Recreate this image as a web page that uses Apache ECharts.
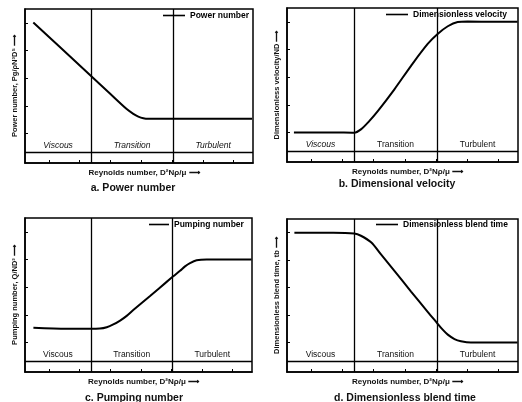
<!DOCTYPE html>
<html>
<head>
<meta charset="utf-8">
<script src="https://cdn.jsdelivr.net/npm/echarts@6/dist/echarts.min.js"></script>
<style>
html,body{margin:0;padding:0;background:#fff;}
#chart{width:522px;height:402px;}
</style>
</head>
<body>
<div id="chart"></div>
<script>
// ---- data (x: position along Reynolds-number axis, 0-100; y: tick units) ----
const xTicks = [10.5, 24, 37.5, 51, 64.5, 78, 91.5];
const yTicks = [1, 2, 3, 4, 5];
const regimeBounds = [29, 65];
const regimeBaseY = 0.33;
const regimes = ['Viscous', 'Transition', 'Turbulent'];

const powerX = [3.65, 16, 28.5, 37, 44.6, 47.5, 49.7, 51.9, 54.1, 60, 80, 99.6];
const powerY = [5.01, 4.07, 3.11, 2.46, 1.88, 1.71, 1.61, 1.55, 1.53, 1.53, 1.53, 1.53];

const velocityX = [3.0, 20, 29.1, 32.0, 35.6, 39.3, 46.5, 53.7, 60.9, 65.2, 69.6, 73.9, 78.2, 90, 99.8];
const velocityY = [1.0, 1.0, 0.99, 1.11, 1.41, 1.77, 2.56, 3.41, 4.2, 4.56, 4.84, 4.99, 5.01, 5.0, 5.0];

const pumpingX = [3.7, 18.4, 28.6, 33.0, 36.0, 38.9, 41.9, 44.8, 47.7, 55.1, 62.4, 65.3, 68.3, 70.5, 72.7, 75.6, 80.0, 90, 99.8];
const pumpingY = [1.53, 1.49, 1.49, 1.50, 1.55, 1.65, 1.79, 1.96, 2.17, 2.68, 3.19, 3.39, 3.59, 3.75, 3.87, 3.97, 4.0, 4.0, 4.0];

const blendX = [3.2, 20, 29.1, 32.0, 36.4, 40.7, 46.5, 53.7, 60.9, 64.8, 67.4, 69.6, 72.5, 75.3, 79.6, 90, 99.8];
const blendY = [5.0, 5.0, 4.97, 4.89, 4.65, 4.21, 3.61, 2.86, 2.12, 1.73, 1.47, 1.29, 1.13, 1.05, 1.0, 1.0, 1.0];

const seriesNames = ['Power number', 'Dimensionless velocity', 'Pumping number', 'Dimensionless blend time'];
const yNames = ['Power number, Pg/ρN³D⁵ ⟶', 'Dimensionless velocity/ND ⟶', 'Pumping number, Q/ND³ ⟶', 'Dimensionless blend time, tb ⟶'];
const xName = 'Reynolds number, D²Nρ/μ ⟶';
const panelTitles = ['a. Power number', 'b. Dimensional velocity', 'c. Pumping number', 'd. Dimensionless blend time'];
const italicRegimes = [[true, true, true], [true, false, false], [false, false, false], [false, false, false]];

// ---- layout ----
const grids = [
  {left: 25, top: 9, width: 228, height: 154},
  {left: 287, top: 8, width: 231, height: 154},
  {left: 25, top: 218, width: 227, height: 154},
  {left: 287, top: 219, width: 231, height: 153}
];
const legendPos = [
  {left: 163, top: 11, itemWidth: 22},
  {left: 386, top: 10, itemWidth: 22},
  {left: 149, top: 220, itemWidth: 20},
  {left: 376, top: 220, itemWidth: 22}
];
const titlePos = [
  {x: 133, y: 183}, {x: 397, y: 179}, {x: 134, y: 393}, {x: 405, y: 393}
];

const FONT = '"Liberation Sans", Arial, sans-serif';
const xs = [powerX, velocityX, pumpingX, blendX];
const ys = [powerY, velocityY, pumpingY, blendY];

const bounds = [0].concat(regimeBounds, [100]);

const option = {
  animation: false,
  backgroundColor: '#fff',
  textStyle: {fontFamily: FONT, color: '#000'},
  grid: grids.map(g => Object.assign({show: true, borderColor: '#000', borderWidth: 1.5, backgroundColor: 'transparent', containLabel: false}, g)),
  xAxis: grids.map((g, i) => ({
    gridIndex: i, type: 'value', min: 0, max: 100,
    name: xName, nameLocation: 'middle', nameGap: 6,
    nameTextStyle: {fontSize: 8, fontWeight: 'bold', color: '#111', fontFamily: FONT, padding: [0, 0, 0, 10]},
    axisLine: {show: true, onZero: false, lineStyle: {color: '#000', width: 1.5}},
    axisTick: {show: true, inside: true, length: 3, customValues: xTicks, lineStyle: {color: '#000', width: 1}},
    axisLabel: {show: false}, splitLine: {show: false}
  })),
  yAxis: grids.map((g, i) => ({
    gridIndex: i, type: 'value', min: -0.07, max: 5.5,
    name: yNames[i], nameLocation: 'middle', nameRotate: 90, nameGap: 6,
    nameTextStyle: {fontSize: 7.5, fontWeight: 'bold', color: '#111', fontFamily: FONT},
    axisLine: {show: true, onZero: false, lineStyle: {color: '#000', width: 1.5}},
    axisTick: {show: true, inside: true, length: 3, customValues: yTicks, lineStyle: {color: '#000', width: 1}},
    axisLabel: {show: false}, splitLine: {show: false}
  })),
  legend: legendPos.map((p, i) => ({
    data: [seriesNames[i]], left: p.left, top: p.top, padding: 0,
    icon: 'rect', itemWidth: p.itemWidth, itemHeight: 1.6,
    textStyle: {fontSize: 8.5, fontWeight: 'bold', color: '#000', fontFamily: FONT},
    selectedMode: false
  })),
  title: titlePos.map((p, i) => ({
    text: panelTitles[i], left: p.x, top: p.y, textAlign: 'center', padding: 0,
    textStyle: {fontSize: 10.5, fontWeight: 'bold', color: '#111', fontFamily: FONT}
  })),
  series: xs.map((xArr, i) => ({
    name: seriesNames[i], type: 'line', xAxisIndex: i, yAxisIndex: i,
    data: xArr.map((x, k) => [x, ys[i][k]]),
    smooth: 0.3, symbol: 'none', showSymbol: false,
    lineStyle: {color: '#000', width: 2}, itemStyle: {color: '#000'},
    markLine: {
      silent: true, symbol: 'none', label: {show: false},
      lineStyle: {color: '#000', type: 'solid', width: 1.3},
      data: regimeBounds.map(b => ({xAxis: b})).concat([{yAxis: regimeBaseY}])
    },
    markArea: {
      silent: true,
      itemStyle: {color: 'rgba(0,0,0,0)'},
      data: regimes.map((r, k) => [
        {name: r, xAxis: bounds[k], yAxis: regimeBaseY,
         label: {show: true, position: 'insideBottom', distance: 2, fontSize: 8.5,
                 fontStyle: italicRegimes[i][k] ? 'italic' : 'normal', color: '#111', fontFamily: FONT}},
        {xAxis: bounds[k + 1], yAxis: 1.2}
      ])
    }
  }))
};

const chart = echarts.init(document.getElementById('chart'), null, {renderer: 'canvas'});
chart.setOption(option);
</script>
</body>
</html>
